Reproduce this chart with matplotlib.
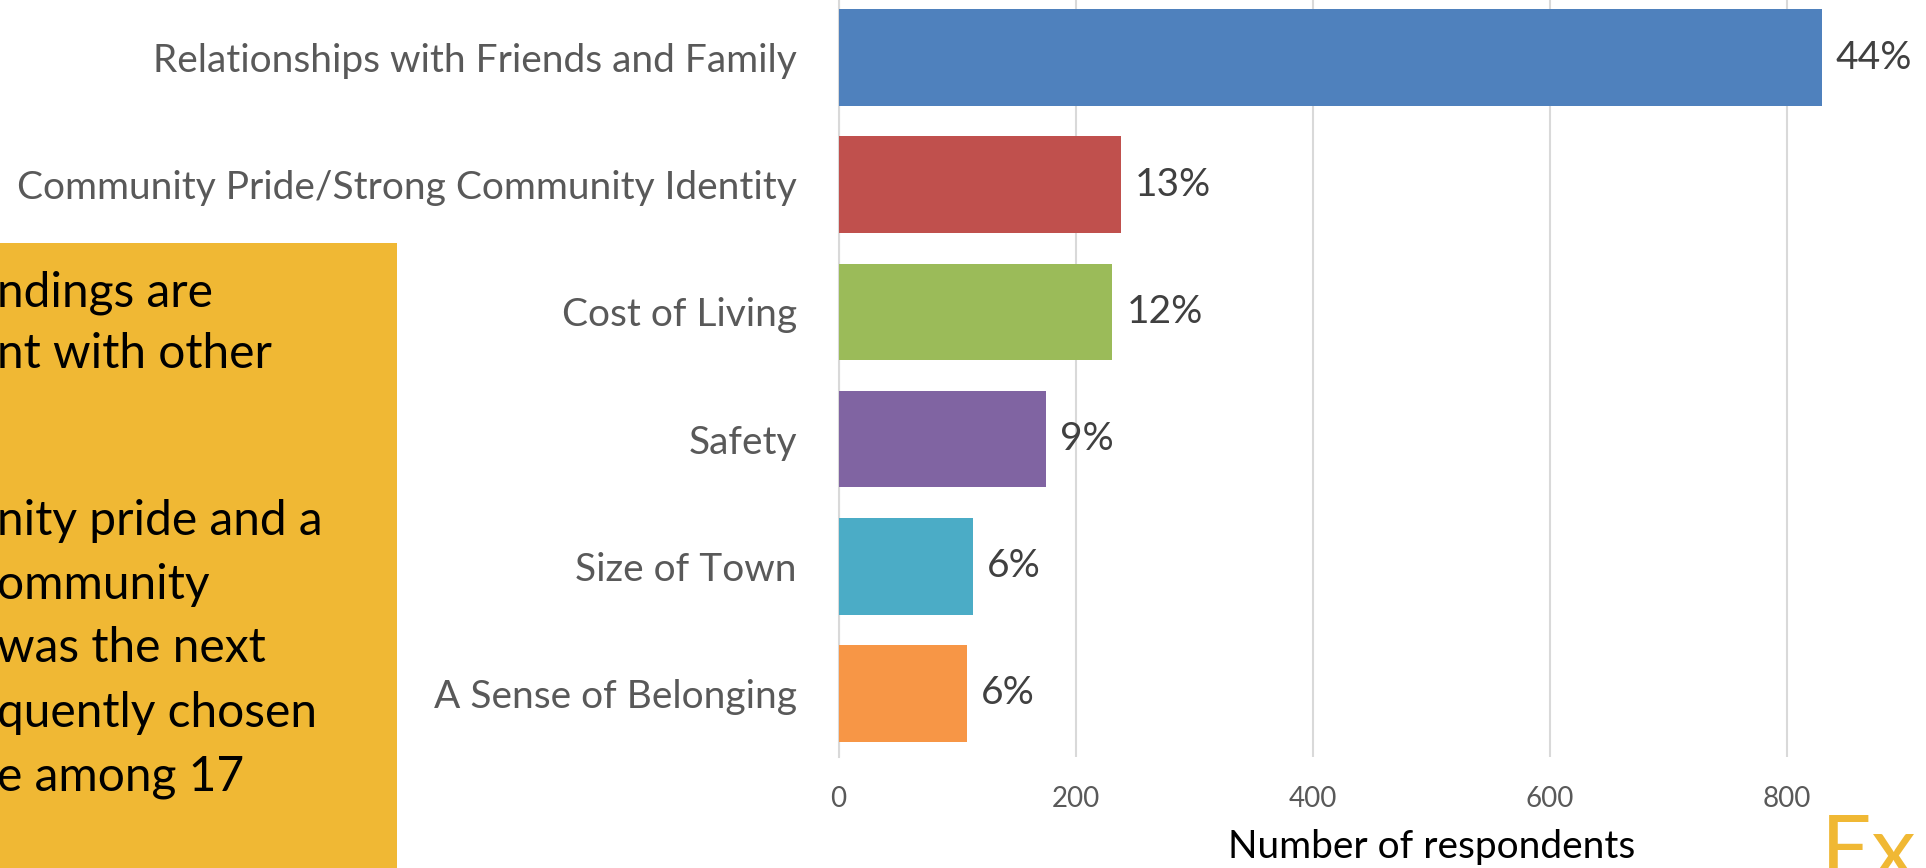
import matplotlib
matplotlib.use("Agg")
import matplotlib.pyplot as plt
from matplotlib.patches import Rectangle

plt.rcParams["font.family"] = ["Lato", "DejaVu Sans"]

# chart data, top to bottom
categories = [
    "Relationships with Friends and Family",
    "Community Pride/Strong Community Identity",
    "Cost of Living",
    "Safety",
    "Size of Town",
    "A Sense of Belonging",
]
respondents = [829, 238, 231, 175, 113, 108]
pct_labels = ["44%", "13%", "12%", "9%", "6%", "6%"]
bar_colors = ["#4F81BD", "#C0504D", "#9BBB59", "#8064A2", "#4BACC6", "#F79646"]
x_ticks = [0, 200, 400, 600, 800]

# text of the side box, only the part that shows in the frame
box_lines = [
    "ndings are",
    "nt with other",
    "",
    "",
    "nity pride and a",
    "ommunity",
    "was the next",
    "quently chosen",
    "e among 17",
]

W, H = 1926, 868
fig = plt.figure(figsize=(W / 100, H / 100), dpi=100)

# axes run past the right edge of the frame (x up to 1000)
ax = fig.add_axes([838.5 / W, 111 / H, 1186 / W, 763 / H])
pos = list(range(len(categories)))
ax.barh(pos, respondents, height=0.76, color=bar_colors, zorder=3)
ax.set_ylim(len(categories) - 0.5, -0.5)
ax.set_xlim(0, 1000)
ax.set_xticks(x_ticks)
ax.set_yticks(pos)
ax.set_yticklabels(categories, fontsize=28, color="#595959")
ax.tick_params(axis="y", length=0, pad=30)
ax.tick_params(axis="x", length=0, pad=21, labelsize=20, labelcolor="#595959")
ax.grid(axis="x", color="#D9D9D9", linewidth=1.5, zorder=0)
for s in ["top", "right", "bottom"]:
    ax.spines[s].set_visible(False)
ax.spines["left"].set_color("#D9D9D9")
ax.spines["left"].set_linewidth(1.5)

for y, v, lab in zip(pos, respondents, pct_labels):
    ax.annotate(lab, (v, y), xytext=(10, 0), textcoords="offset points",
                va="center", ha="left", fontsize=28, color="#404040")

ax.set_xlabel("Number of respondents", fontsize=28, color="black", labelpad=12)

# yellow note box on the left, cut off by the frame
fig.patches.append(Rectangle((-0.05, -0.1), 397 / W + 0.05, 1.1 - 243 / H,
                             transform=fig.transFigure, facecolor="#F0B834",
                             edgecolor="none", zorder=0))
line_y = [238, 288, 338, 388, 424, 476, 528, 581, 633]
for ly, txt in zip(line_y, box_lines):
    if txt:
        fig.text(-3 / W, 1 - ly * 1.228 / H, txt, fontsize=34.5, color="black",
                 ha="left", va="center")

# logo text at bottom right
fig.text(1821 / W, 1 - 813 / H, "Ex", fontsize=64, color="#F0B834",
         ha="left", va="top")

fig.savefig("out.png", dpi=100)
